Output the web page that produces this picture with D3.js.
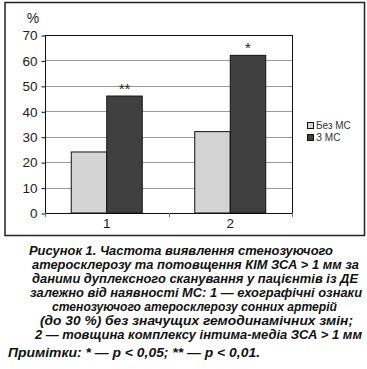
<!DOCTYPE html>
<html>
<head>
<meta charset="utf-8">
<script src="https://cdnjs.cloudflare.com/ajax/libs/d3/7.8.5/d3.min.js"></script>
<style>
  body { margin: 0; background: #fff; }
  svg { display: block; }
</style>
</head>
<body>
<div id="chart"></div>
<script>
'use strict';
// data
var categories = ["1", "2"];
var seriesNames = ["Без МС", "З МС"];
var bezMS = [24, 32];
var zMS = [46, 62];
var marks = ["**", "*"];          // significance over the "З МС" bars
var yTicks = [0, 10, 20, 30, 40, 50, 60, 70];
var captionLines = [
  "Рисунок 1. Частота виявлення стенозуючого",
  "атеросклерозу та потовщення КІМ ЗСА > 1 мм за",
  "даними дуплексного сканування у пацієнтів із ДЕ",
  "залежно від наявності МС: 1 — ехографічні ознаки",
  "стенозуючого атеросклерозу сонних артерій",
  "(до 30 %) без значущих гемодинамічних змін;",
  "2 — товщина комплексу інтима-медіа ЗСА > 1 мм"
];
var noteLine = "Примітки: * — p < 0,05; ** — p < 0,01.";

var W = 367, H = 369;
var colors = ["#d4d4d4", "#404040"];
var plot = {left: 45, right: 292, top: 35, bottom: 213};

var svg = d3.select("#chart").append("svg")
    .attr("width", W)
    .attr("height", H);

// outer frame
svg.append("rect")
    .attr("x", 5).attr("y", 2.5)
    .attr("width", 359.5).attr("height", 233)
    .attr("fill", "none")
    .attr("stroke", "#222")
    .attr("stroke-width", 1.5);

var y = d3.scaleLinear().domain([0, 70]).range([plot.bottom, plot.top]);
var x0 = d3.scaleBand().domain(categories).range([plot.left, plot.right]).padding(0);
var x1 = d3.scaleBand().domain(seriesNames).range([0, x0.bandwidth()])
    .paddingInner(0).paddingOuter(0.74);

// gridlines
svg.append("g").selectAll("line")
    .data(yTicks.filter(function(d){ return d > 0 && d < 70; }))
    .enter().append("line")
    .attr("x1", plot.left).attr("x2", plot.right)
    .attr("y1", function(d){ return Math.round(y(d)) + 0.5; })
    .attr("y2", function(d){ return Math.round(y(d)) + 0.5; })
    .attr("stroke", "#9a9a9a")
    .attr("stroke-width", 1);

// bars
var rows = categories.map(function(c, i){
  return {cat: c, vals: [{s: seriesNames[0], v: bezMS[i]}, {s: seriesNames[1], v: zMS[i]}]};
});
var groups = svg.append("g").selectAll("g")
    .data(rows)
    .enter().append("g")
    .attr("transform", function(d){ return "translate(" + x0(d.cat) + ",0)"; });

groups.selectAll("rect")
    .data(function(d){ return d.vals; })
    .enter().append("rect")
    .attr("x", function(d){ return x1(d.s); })
    .attr("y", function(d){ return y(d.v); })
    .attr("width", x1.bandwidth())
    .attr("height", function(d){ return y(0) - y(d.v); })
    .attr("fill", function(d, i){ return colors[i]; })
    .attr("stroke", "#111")
    .attr("stroke-width", 1);

// significance marks
svg.append("g").selectAll("text")
    .data(categories)
    .enter().append("text")
    .attr("x", function(d){ return x0(d) + x1(seriesNames[1]) + x1.bandwidth() / 2; })
    .attr("y", function(d, i){ return y(zMS[i]) - 2; })
    .attr("text-anchor", "middle")
    .attr("font-family", "Liberation Sans, Arial, sans-serif")
    .attr("font-size", "15px")
    .attr("fill", "#222")
    .text(function(d, i){ return marks[i]; });

// plot frame
svg.append("rect")
    .attr("x", plot.left + 0.5).attr("y", plot.top + 0.5)
    .attr("width", plot.right - plot.left).attr("height", plot.bottom - plot.top)
    .attr("fill", "none")
    .attr("stroke", "#111")
    .attr("stroke-width", 1);

// y axis
var yAxis = svg.append("g")
    .attr("transform", "translate(" + (plot.left + 0.5) + ",0.5)")
    .call(d3.axisLeft(y).tickValues(yTicks).tickSize(4).tickPadding(4));
yAxis.select(".domain").remove();
yAxis.selectAll("line").attr("stroke", "#111");
yAxis.selectAll("text")
    .attr("font-family", "Liberation Sans, Arial, sans-serif")
    .attr("font-size", "13.5px")
    .attr("fill", "#222");

// x axis
var xAxis = svg.append("g")
    .attr("transform", "translate(0," + (plot.bottom + 0.5) + ")")
    .call(d3.axisBottom(x0).tickSize(0).tickPadding(5));
xAxis.select(".domain").remove();
xAxis.selectAll("text")
    .attr("font-family", "Liberation Sans, Arial, sans-serif")
    .attr("font-size", "13.5px")
    .attr("fill", "#222");
svg.append("g").selectAll("line")
    .data([plot.left, (plot.left + plot.right) / 2, plot.right])
    .enter().append("line")
    .attr("x1", function(d){ return Math.round(d) + 0.5; })
    .attr("x2", function(d){ return Math.round(d) + 0.5; })
    .attr("y1", plot.bottom).attr("y2", plot.bottom + 4)
    .attr("stroke", "#777");

// "%" label
svg.append("text")
    .attr("x", 33).attr("y", 23)
    .attr("text-anchor", "middle")
    .attr("font-family", "Liberation Sans, Arial, sans-serif")
    .attr("font-size", "14px")
    .attr("fill", "#222")
    .text("%");

// legend
var legend = svg.append("g").attr("transform", "translate(307,122)");
var li = legend.selectAll("g")
    .data(seriesNames)
    .enter().append("g")
    .attr("transform", function(d, i){ return "translate(0," + (i * 12) + ")"; });
li.append("rect")
    .attr("x", 0.5).attr("y", 0.5)
    .attr("width", 6).attr("height", 6)
    .attr("fill", function(d, i){ return colors[i]; })
    .attr("stroke", "#111")
    .attr("stroke-width", 1);
li.append("text")
    .attr("x", 9).attr("y", 7)
    .attr("font-family", "Liberation Sans, Arial, sans-serif")
    .attr("font-size", "10px")
    .attr("fill", "#333")
    .text(function(d){ return d; });

// caption (start x, end x, baseline)
var capPos = [
  [29, 333, 255], [32, 359, 269], [32, 358, 283], [30, 362, 297],
  [52, 337, 311], [40, 353, 325], [35, 362, 339]
];
var cap = svg.append("g")
    .attr("font-family", "Liberation Sans, Arial, sans-serif")
    .attr("font-size", "13.5px")
    .attr("font-weight", "bold")
    .attr("font-style", "italic")
    .attr("fill", "#111");
cap.selectAll("text")
    .data(captionLines)
    .enter().append("text")
    .attr("x", function(d, i){ return capPos[i][0]; })
    .attr("y", function(d, i){ return capPos[i][2]; })
    .attr("textLength", function(d, i){ return capPos[i][1] - capPos[i][0]; })
    .attr("lengthAdjust", "spacingAndGlyphs")
    .text(function(d){ return d; });
cap.append("text")
    .attr("x", 8).attr("y", 357)
    .attr("textLength", 252)
    .attr("lengthAdjust", "spacingAndGlyphs")
    .text(noteLine);
</script>
</body>
</html>
